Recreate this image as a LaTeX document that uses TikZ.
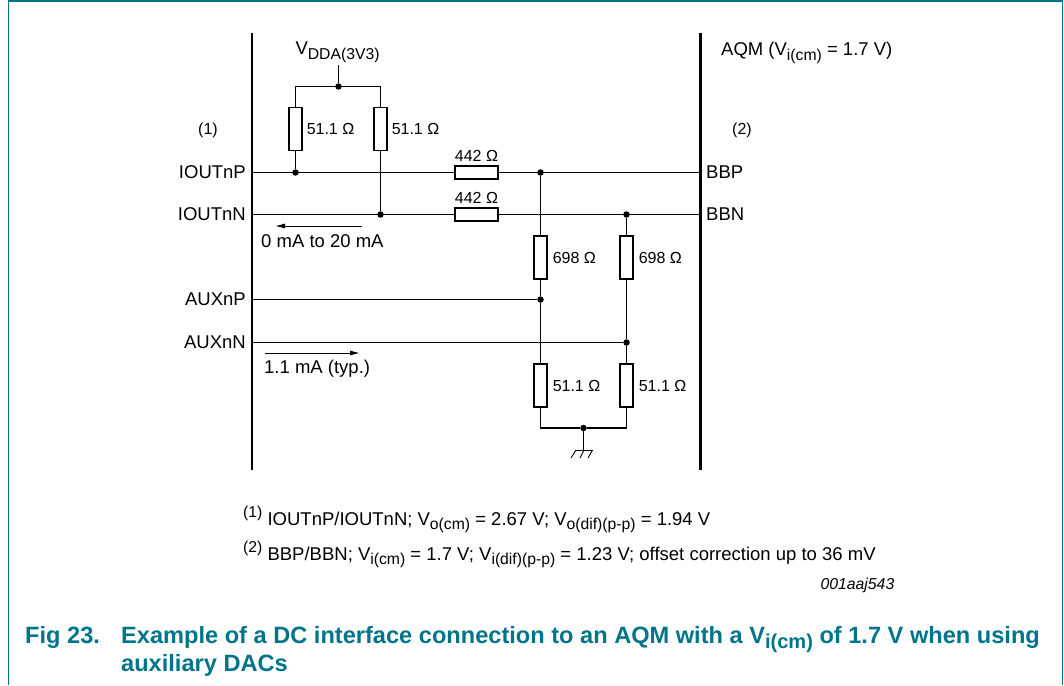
\documentclass[tikz,border=0pt]{standalone}
\usepackage{fontspec}
\setmainfont{Liberation Sans}
\usetikzlibrary{positioning,arrows.meta}
\definecolor{figteal}{HTML}{00758A}
\newcommand{\sbs}[1]{\raisebox{-.24em}{\scalebox{.85}{#1}}}
\newcommand{\sps}[1]{\raisebox{.42em}{\scalebox{.85}{#1}}}
\tikzset{
	vres/.style={draw,line width=1.1pt,fill=white,minimum width=13pt,minimum height=43pt,inner sep=0pt},
	hres/.style={draw,line width=1.1pt,fill=white,minimum width=43pt,minimum height=13pt,inner sep=0pt},
	junct/.style={circle,fill=black,inner sep=0pt,minimum size=6.5pt},
	wire/.style={line width=1.1pt},
	busbar/.style={line width=2.6pt},
	rlabel/.style={font=\fontsize{16}{18}\selectfont,inner sep=0pt},
	sig/.style={font=\fontsize{18.5}{20}\selectfont,inner sep=0pt},
	note/.style={font=\fontsize{18.5}{20}\selectfont,inner sep=0pt,anchor=base west},
	heading/.style={note,font=\fontsize{23.6}{26}\selectfont\bfseries,text=figteal},
	flow/.style={-{Latex[length=10pt,width=5pt]},line width=1pt}
}
\begin{document}
\begin{tikzpicture}[x=1pt,y=-1pt]
	\useasboundingbox (0,0) rectangle (1064,685);
	\draw[figteal,line width=1.3pt] (8.5,685) -- (8.5,1) -- (1062.5,1) -- (1062.5,685);

	\draw[busbar] (252,33) -- (252,470);
	\draw[busbar] (700.5,33) -- (700.5,470);

	\coordinate (iopL) at (252,172.5);
	\coordinate (ionL) at (252,214.5);
	\coordinate (auxpL) at (252,299.5);
	\coordinate (auxnL) at (252,342.5);
	\coordinate (bbpR) at (700,172.5);
	\coordinate (bbnR) at (700,214.5);

	\node[sig,anchor=base] at (337.5,55){V\sbs{DDA(3V3)}};
	\coordinate (vtop) at (338.5,65);
	\node[junct] (vdot) at (338.5,86.5){};
	\coordinate (vl) at (295.5,86.5);
	\coordinate (vr) at (380.5,86.5);
	\node[vres] (r1) at (295.5,129){};
	\node[vres] (r2) at (380.5,129){};
	\node[rlabel,right=4pt of r1]{51.1 Ω};
	\node[rlabel,right=4pt of r2]{51.1 Ω};
	\node[junct] (d1) at (295.5,172.5){};
	\node[junct] (d2) at (380.5,214.5){};
	\draw[wire] (vtop) -- (vdot);
	\draw[wire] (r1.north) |- (vl) -- (vr) -- (r2.north);
	\draw[wire] (r1.south) -- (d1);
	\draw[wire] (r2.south) -- (d2);

	\node[hres] (r3) at (476.5,172.5){};
	\node[hres] (r4) at (476.5,214.5){};
	\node[rlabel,above=4pt of r3]{442 Ω};
	\node[rlabel,above=4pt of r4]{442 Ω};
	\node[junct] (d3) at (540.5,172.5){};
	\node[junct] (d4) at (626.5,214.5){};
	\draw[wire] (iopL) -- (r3.west);
	\draw[wire] (r3.east) -- (bbpR);
	\draw[wire] (ionL) -- (r4.west);
	\draw[wire] (r4.east) -- (bbnR);

	\node[vres] (r5) at (540.5,257.5){};
	\node[vres] (r6) at (626.5,257.5){};
	\node[rlabel,right=5pt of r5]{698 Ω};
	\node[rlabel,right=5pt of r6]{698 Ω};
	\node[junct] (d5) at (540.5,299.5){};
	\node[junct] (d6) at (626.5,342.5){};
	\node[vres] (r7) at (540.5,385.5){};
	\node[vres] (r8) at (626.5,385.5){};
	\node[rlabel,right=5pt of r7]{51.1 Ω};
	\node[rlabel,right=5pt of r8]{51.1 Ω};
	\draw[wire] (d3) -- (r5.north);
	\draw[wire] (r5.south) -- (d5);
	\draw[wire] (d5) -- (r7.north);
	\draw[wire] (d4) -- (r6.north);
	\draw[wire] (r6.south) -- (d6);
	\draw[wire] (d6) -- (r8.north);
	\draw[wire] (auxpL) -- (d5);
	\draw[wire] (auxnL) -- (d6);

	\node[junct] (d7) at (583.5,428){};
	\draw[wire] (r7.south) |- (d7);
	\draw[wire] (r8.south) |- (d7);
	\coordinate (gnd) at (583.5,450);
	\draw[wire] (d7) -- (gnd);
	\draw[line width=.9pt] (576,450) -- (592.5,450);
	\draw[line width=.9pt] (576,450) -- (571,458);
	\draw[line width=.9pt] (584,450) -- (580,458);
	\draw[line width=.9pt] (592.5,450) -- (588,458);

	\node[sig,left=6pt of iopL]{IOUTnP};
	\node[sig,left=6pt of ionL]{IOUTnN};
	\node[sig,left=6pt of auxpL]{AUXnP};
	\node[sig,left=6pt of auxnL]{AUXnN};
	\node[sig,right=6pt of bbpR]{BBP};
	\node[sig,right=6pt of bbnR]{BBN};
	\node[rlabel] at (208,130){(1)};
	\node[rlabel] at (742,130){(2)};
	\node[sig,anchor=base west] at (721,56){AQM (V\sbs{i(cm)} = 1.7 V)};

	\coordinate (ia) at (362,226);
	\coordinate (ib) at (275,226);
	\coordinate (ic) at (265,353);
	\coordinate (id) at (360,353);
	\draw[flow] (ia) -- (ib);
	\draw[flow] (ic) -- (id);
	\node[sig,anchor=base west] at (261,247){0 mA to 20 mA};
	\node[sig,anchor=base west] at (264,373){1.1 mA (typ.)};

	\node[note] at (243,525){\sps{(1)} IOUTnP/IOUTnN; V\sbs{o(cm)} = 2.67 V; V\sbs{o(dif)(p-p)} = 1.94 V};
	\node[note] at (243,560){\sps{(2)} BBP/BBN; V\sbs{i(cm)} = 1.7 V; V\sbs{i(dif)(p-p)} = 1.23 V; offset correction up to 36 mV};
	\node[note,font=\fontsize{15.8}{18}\selectfont\itshape,anchor=base east] at (894.5,589){001aaj543};

	\node[heading] at (25,643){Fig 23.};
	\node[heading] at (121,643){Example of a DC interface connection to an AQM with a V\sbs{i(cm)} of 1.7 V when using};
	\node[heading] at (121,671){auxiliary DACs};
\end{tikzpicture}
\end{document}
